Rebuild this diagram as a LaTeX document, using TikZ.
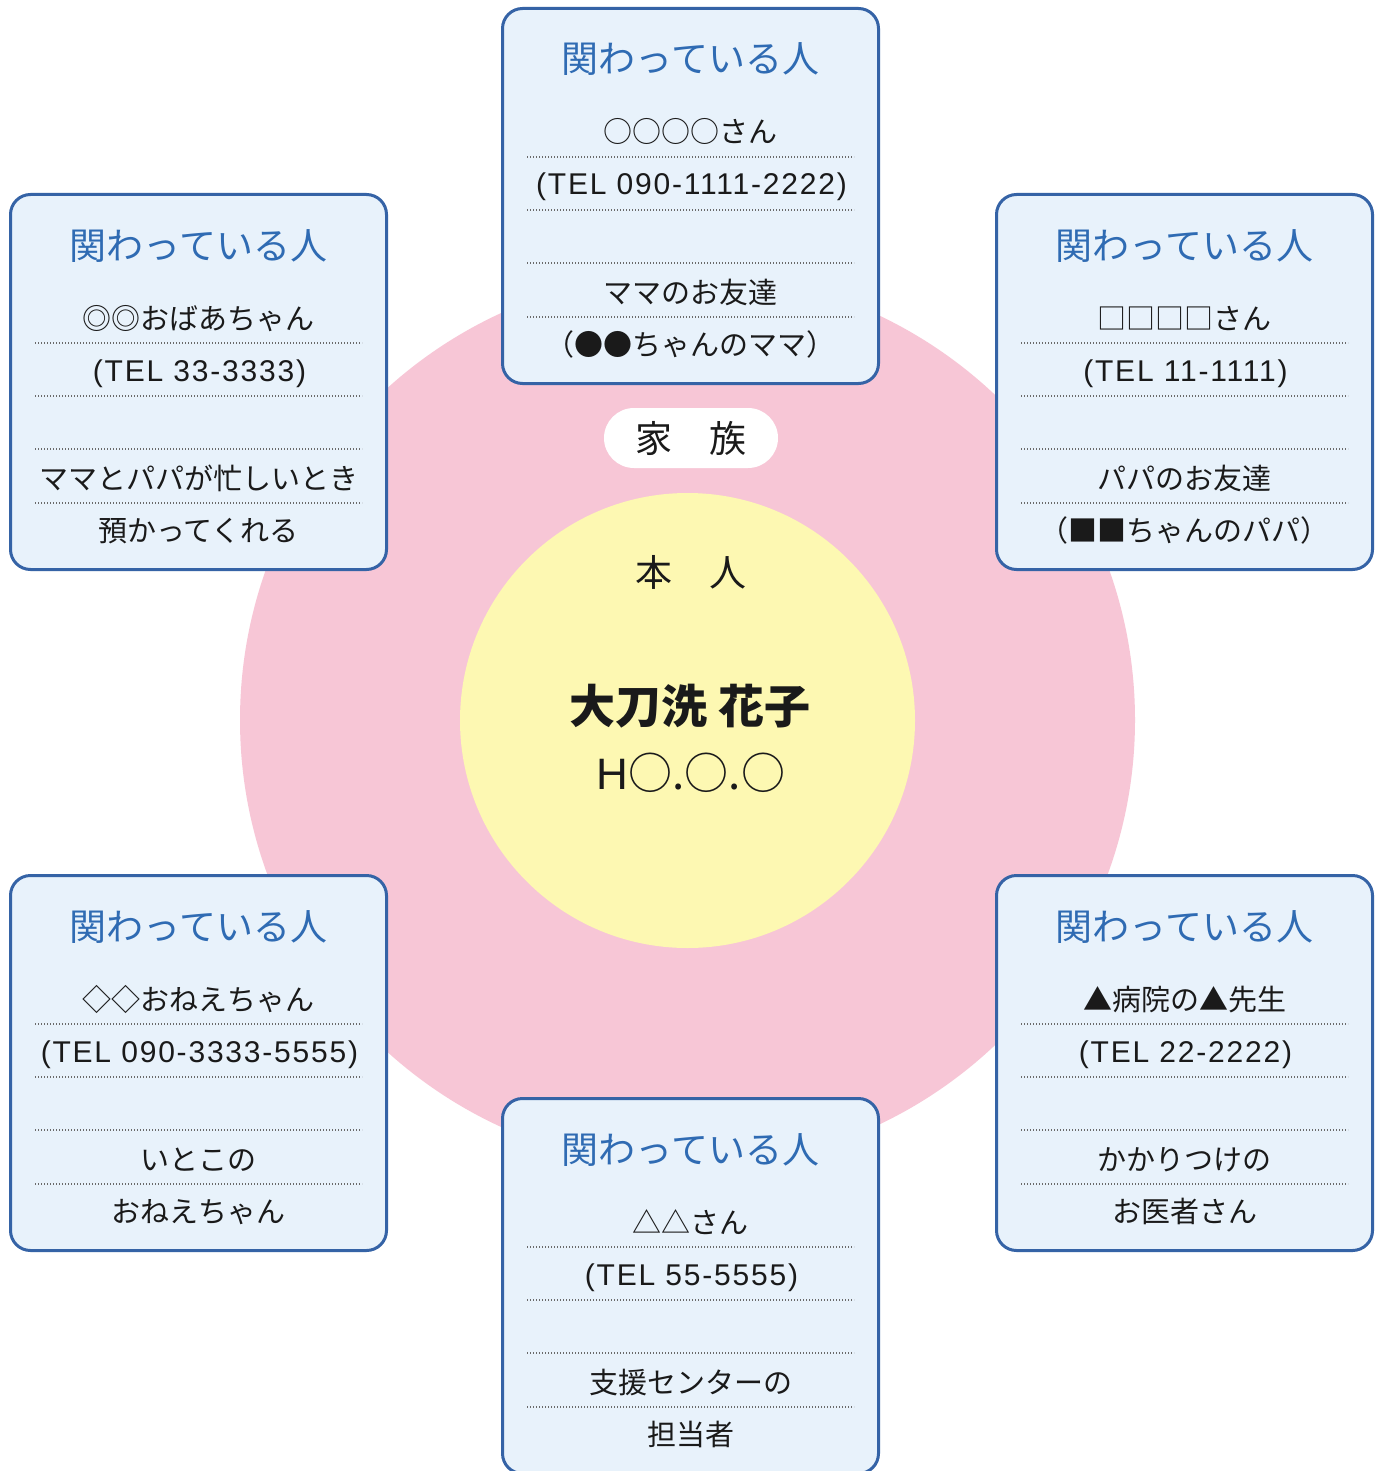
\documentclass[tikz,border=0pt]{standalone}
\usepackage{fontspec}
\setmainfont{Noto Sans CJK JP}
\newfontfamily\telfont[LetterSpace=6]{Liberation Sans}
\newfontfamily\hfont{Liberation Sans}
\definecolor{famPink}{HTML}{F7C6D6}
\definecolor{selfYellow}{HTML}{FDF8B2}
\definecolor{boxFill}{HTML}{E8F2FB}
\definecolor{boxLine}{HTML}{3563A6}
\definecolor{hdrBlue}{HTML}{2F6BB3}
\definecolor{inkText}{HTML}{1A1A1A}
\definecolor{dotGray}{HTML}{6A6A6A}
\tikzset{
  personframe/.style={draw=boxLine, fill=boxFill, line width=3pt, rounded corners=20pt,
    minimum width=376pt, minimum height=375pt, inner sep=0pt},
  hdrtext/.style={font=\fontsize{37}{44}\selectfont, text=hdrBlue, inner sep=0pt,
    text height=32.5pt, text depth=4.5pt},
  bodytext/.style={font=\fontsize{29}{34}\selectfont, text=inkText, inner sep=0pt,
    text height=25.5pt, text depth=3.5pt},
  teltext/.style={font=\telfont\fontsize{30}{34}\selectfont, text=inkText, inner sep=0pt,
    text height=25.5pt, text depth=3.5pt},
  dotrule/.style={draw=dotGray, line width=1.1pt, dash pattern=on 1.3pt off 1.7pt},
  centertext/.style={font=\fontsize{37}{44}\selectfont, text=inkText, inner sep=0pt,
    text height=32.5pt, text depth=4.5pt},
}
\newcommand{\kakawaribox}[7]{%
  \node[personframe] (#1) at (#2+189.5,#3+189) {};
  \node[hdrtext] (#1h) at (#2+189.5,#3+52) {関わっている人};
  \node[bodytext] (#1a) at (#2+189.5,#3+125) {#4};
  \node[teltext] (#1b) at (#2+190.5,#3+177) {#5};
  \node[bodytext] (#1c) at (#2+189.5,#3+285) {#6};
  \node[bodytext] (#1d) at (#2+189.5,#3+337) {#7};
  \draw[dotrule] (#2+26,#3+150) -- (#2+353,#3+150);
  \draw[dotrule] (#2+26,#3+203) -- (#2+353,#3+203);
  \draw[dotrule] (#2+26,#3+256) -- (#2+353,#3+256);
  \draw[dotrule] (#2+26,#3+310) -- (#2+353,#3+310);
}
\begin{document}
\begin{tikzpicture}[x=1pt,y=-1pt]
\clip (0,0) rectangle (1383,1471);
\fill[white] (0,0) rectangle (1383,1471);
% circles
\node[circle, fill=famPink, minimum size=895pt, inner sep=0pt] (family) at (687.5,720) {};
\node[circle, fill=selfYellow, minimum size=455pt, inner sep=0pt] (self) at (687.5,720.5) {};
% family pill
\node[fill=white, rounded corners=30pt, minimum width=174pt, minimum height=60pt, inner sep=0pt,
  centertext] (famlabel) at (691,438) {家　族};
% self texts
\node[centertext] (selflabel) at (691,572) {本　人};
\node[font=\fontsize{46}{54}\selectfont\bfseries, text=inkText, inner sep=0pt,
  text height=40.5pt, text depth=5.5pt] (selfname) at (690,706) {大刀洗 花子};
\node[font=\fontsize{44}{52}\selectfont, text=inkText, inner sep=0pt,
  text height=38.7pt, text depth=5.3pt] (selfdate) at (691,773) {{\hfont H}○.○.○};
% boxes
\kakawaribox{top}{501}{7}{○○○○さん}{(TEL 090-1111-2222)}{ママのお友達}{（●●ちゃんのママ）}
\kakawaribox{ul}{9}{193}{◎◎おばあちゃん}{(TEL 33-3333)}{ママとパパが忙しいとき}{預かってくれる}
\kakawaribox{ur}{995}{193}{□□□□さん}{(TEL 11-1111)}{パパのお友達}{（■■ちゃんのパパ）}
\kakawaribox{ll}{9}{874}{◇◇おねえちゃん}{(TEL 090-3333-5555)}{いとこの}{おねえちゃん}
\kakawaribox{lr}{995}{874}{▲病院の▲先生}{(TEL 22-2222)}{かかりつけの}{お医者さん}
\kakawaribox{bot}{501}{1097}{△△さん}{(TEL 55-5555)}{支援センターの}{担当者}
\end{tikzpicture}
\end{document}
